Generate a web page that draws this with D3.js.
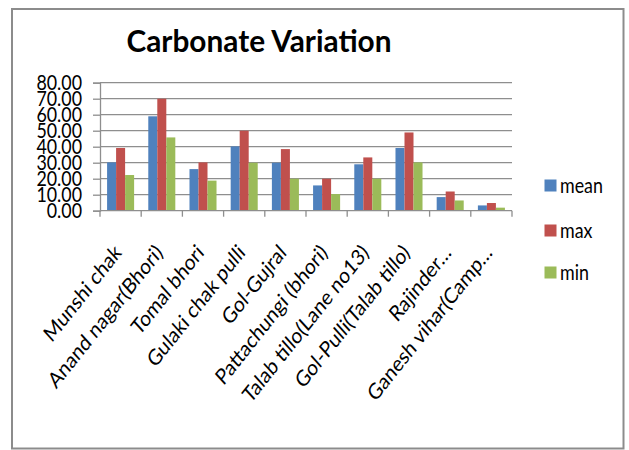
<!DOCTYPE html>
<html><head><meta charset="utf-8">
<script src="https://cdn.jsdelivr.net/npm/d3@7"></script>
<style>body{margin:0;background:#fff}svg{display:block}</style>
</head><body>
<svg id="c" width="629" height="450"></svg>
<script>
const categories = ["Munshi chak","Anand nagar(Bhori)","Tomal bhori","Gulaki chak pulli","Gol-Gujral","Pattachungi (bhori)","Talab tillo(Lane no13)","Gol-Pulli(Talab tillo)","Rajinder…","Ganesh vihar(Camp…"];
const seriesNames = ["mean","max","min"];
const meanValues = [30.2, 59.0, 26.0, 40.2, 30.0, 15.8, 29.0, 39.2, 8.5, 3.3];
const maxValues  = [39.2, 70.0, 30.2, 50.0, 38.5, 20.0, 33.3, 48.9, 12.0, 4.8];
const minValues  = [22.3, 45.8, 18.8, 30.0, 20.0, 10.4, 20.0, 30.2, 6.4, 1.9];
const yTicks = [0,10,20,30,40,50,60,70,80];
const colors = ["#4F81BD","#C0504D","#9BBB59"];
const title = "Carbonate Variation";

(function(){
const svg = d3.select("#c");
const FONT = "Lato, 'Open Sans', sans-serif";
const SX = 0.85;

// outer border
svg.append("rect").attr("x",12).attr("y",9).attr("width",611.5).attr("height",439.5)
  .attr("fill","#fff").attr("stroke","#8c8c8c").attr("stroke-width",2);

const pL = 100, pR = 512, pT = 82.7, pB = 210.7;
const x = d3.scaleBand().domain(categories).range([pL,pR]).padding(0);
const cw = x.bandwidth();
const xs = d3.scaleBand().domain(seriesNames).range([cw*0.172, cw*0.828]).padding(0);
const y = d3.scaleLinear().domain([0,80]).range([pB, pT]);

// gridlines
svg.append("g").selectAll("line").data(yTicks.filter(d=>d>0)).join("line")
  .attr("x1",pL).attr("x2",pR).attr("y1",d=>y(d)).attr("y2",d=>y(d))
  .attr("stroke","#8e8e8e").attr("stroke-width",1.3);

// bars
const data = [meanValues, maxValues, minValues];
seriesNames.forEach((s,si)=>{
  svg.append("g").selectAll("rect").data(categories).join("rect")
    .attr("x",(c)=>x(c)+xs(s))
    .attr("width",xs.bandwidth())
    .attr("y",(c,i)=>y(data[si][i]))
    .attr("height",(c,i)=>y(0)-y(data[si][i]))
    .attr("fill",colors[si]);
});

// y axis
const ya = svg.append("g").attr("transform",`translate(${pL},0)`)
  .call(d3.axisLeft(y).tickValues(yTicks).tickSize(7).tickFormat(d3.format(".2f")));
ya.select(".domain").attr("stroke","#8e8e8e").attr("stroke-width",1.3);
ya.selectAll(".tick line").attr("stroke","#8e8e8e").attr("stroke-width",1.3);
ya.selectAll(".tick text").remove();
svg.append("g").selectAll("text").data(yTicks).join("text")
  .attr("transform",d=>`translate(82,${y(d)+7.5}) scale(${SX},1)`)
  .attr("text-anchor","end").attr("font-family",FONT).attr("font-size",21).attr("fill","#000")
  .text(d=>d3.format(".2f")(d));

// x axis
svg.append("line").attr("x1",pL).attr("x2",pR).attr("y1",pB).attr("y2",pB)
  .attr("stroke","#8e8e8e").attr("stroke-width",1.3);
const bounds = categories.map(c=>x(c)).concat([pR]);
svg.append("g").selectAll("line").data(bounds).join("line")
  .attr("x1",d=>d).attr("x2",d=>d).attr("y1",pB).attr("y2",pB+6)
  .attr("stroke","#8e8e8e").attr("stroke-width",1.3);

svg.append("g").selectAll("text").data(categories).join("text")
  .attr("transform",c=>`translate(${x(c)+cw/2+2},${pB+43}) scale(${SX},1) rotate(-47)`)
  .attr("text-anchor","end").attr("font-family",FONT).attr("font-size",22).attr("fill","#000")
  .text(c=>c);

// title
svg.append("text").attr("x",259).attr("y",52).attr("text-anchor","middle")
  .attr("font-family",FONT).attr("font-weight","bold").attr("font-size",31)
  .attr("textLength",265).attr("lengthAdjust","spacingAndGlyphs").text(title);

// legend
const ly = [185.5, 230.5, 272.5];
const lg = svg.append("g");
seriesNames.forEach((s,i)=>{
  lg.append("rect").attr("x",544.5).attr("y",ly[i]-6).attr("width",12).attr("height",12).attr("fill",colors[i]);
  lg.append("text").attr("transform",`translate(560,${ly[i]+7}) scale(${SX},1)`)
    .attr("font-family",FONT).attr("font-size",21).attr("fill","#000").text(s);
});
})();
</script>
</body></html>
